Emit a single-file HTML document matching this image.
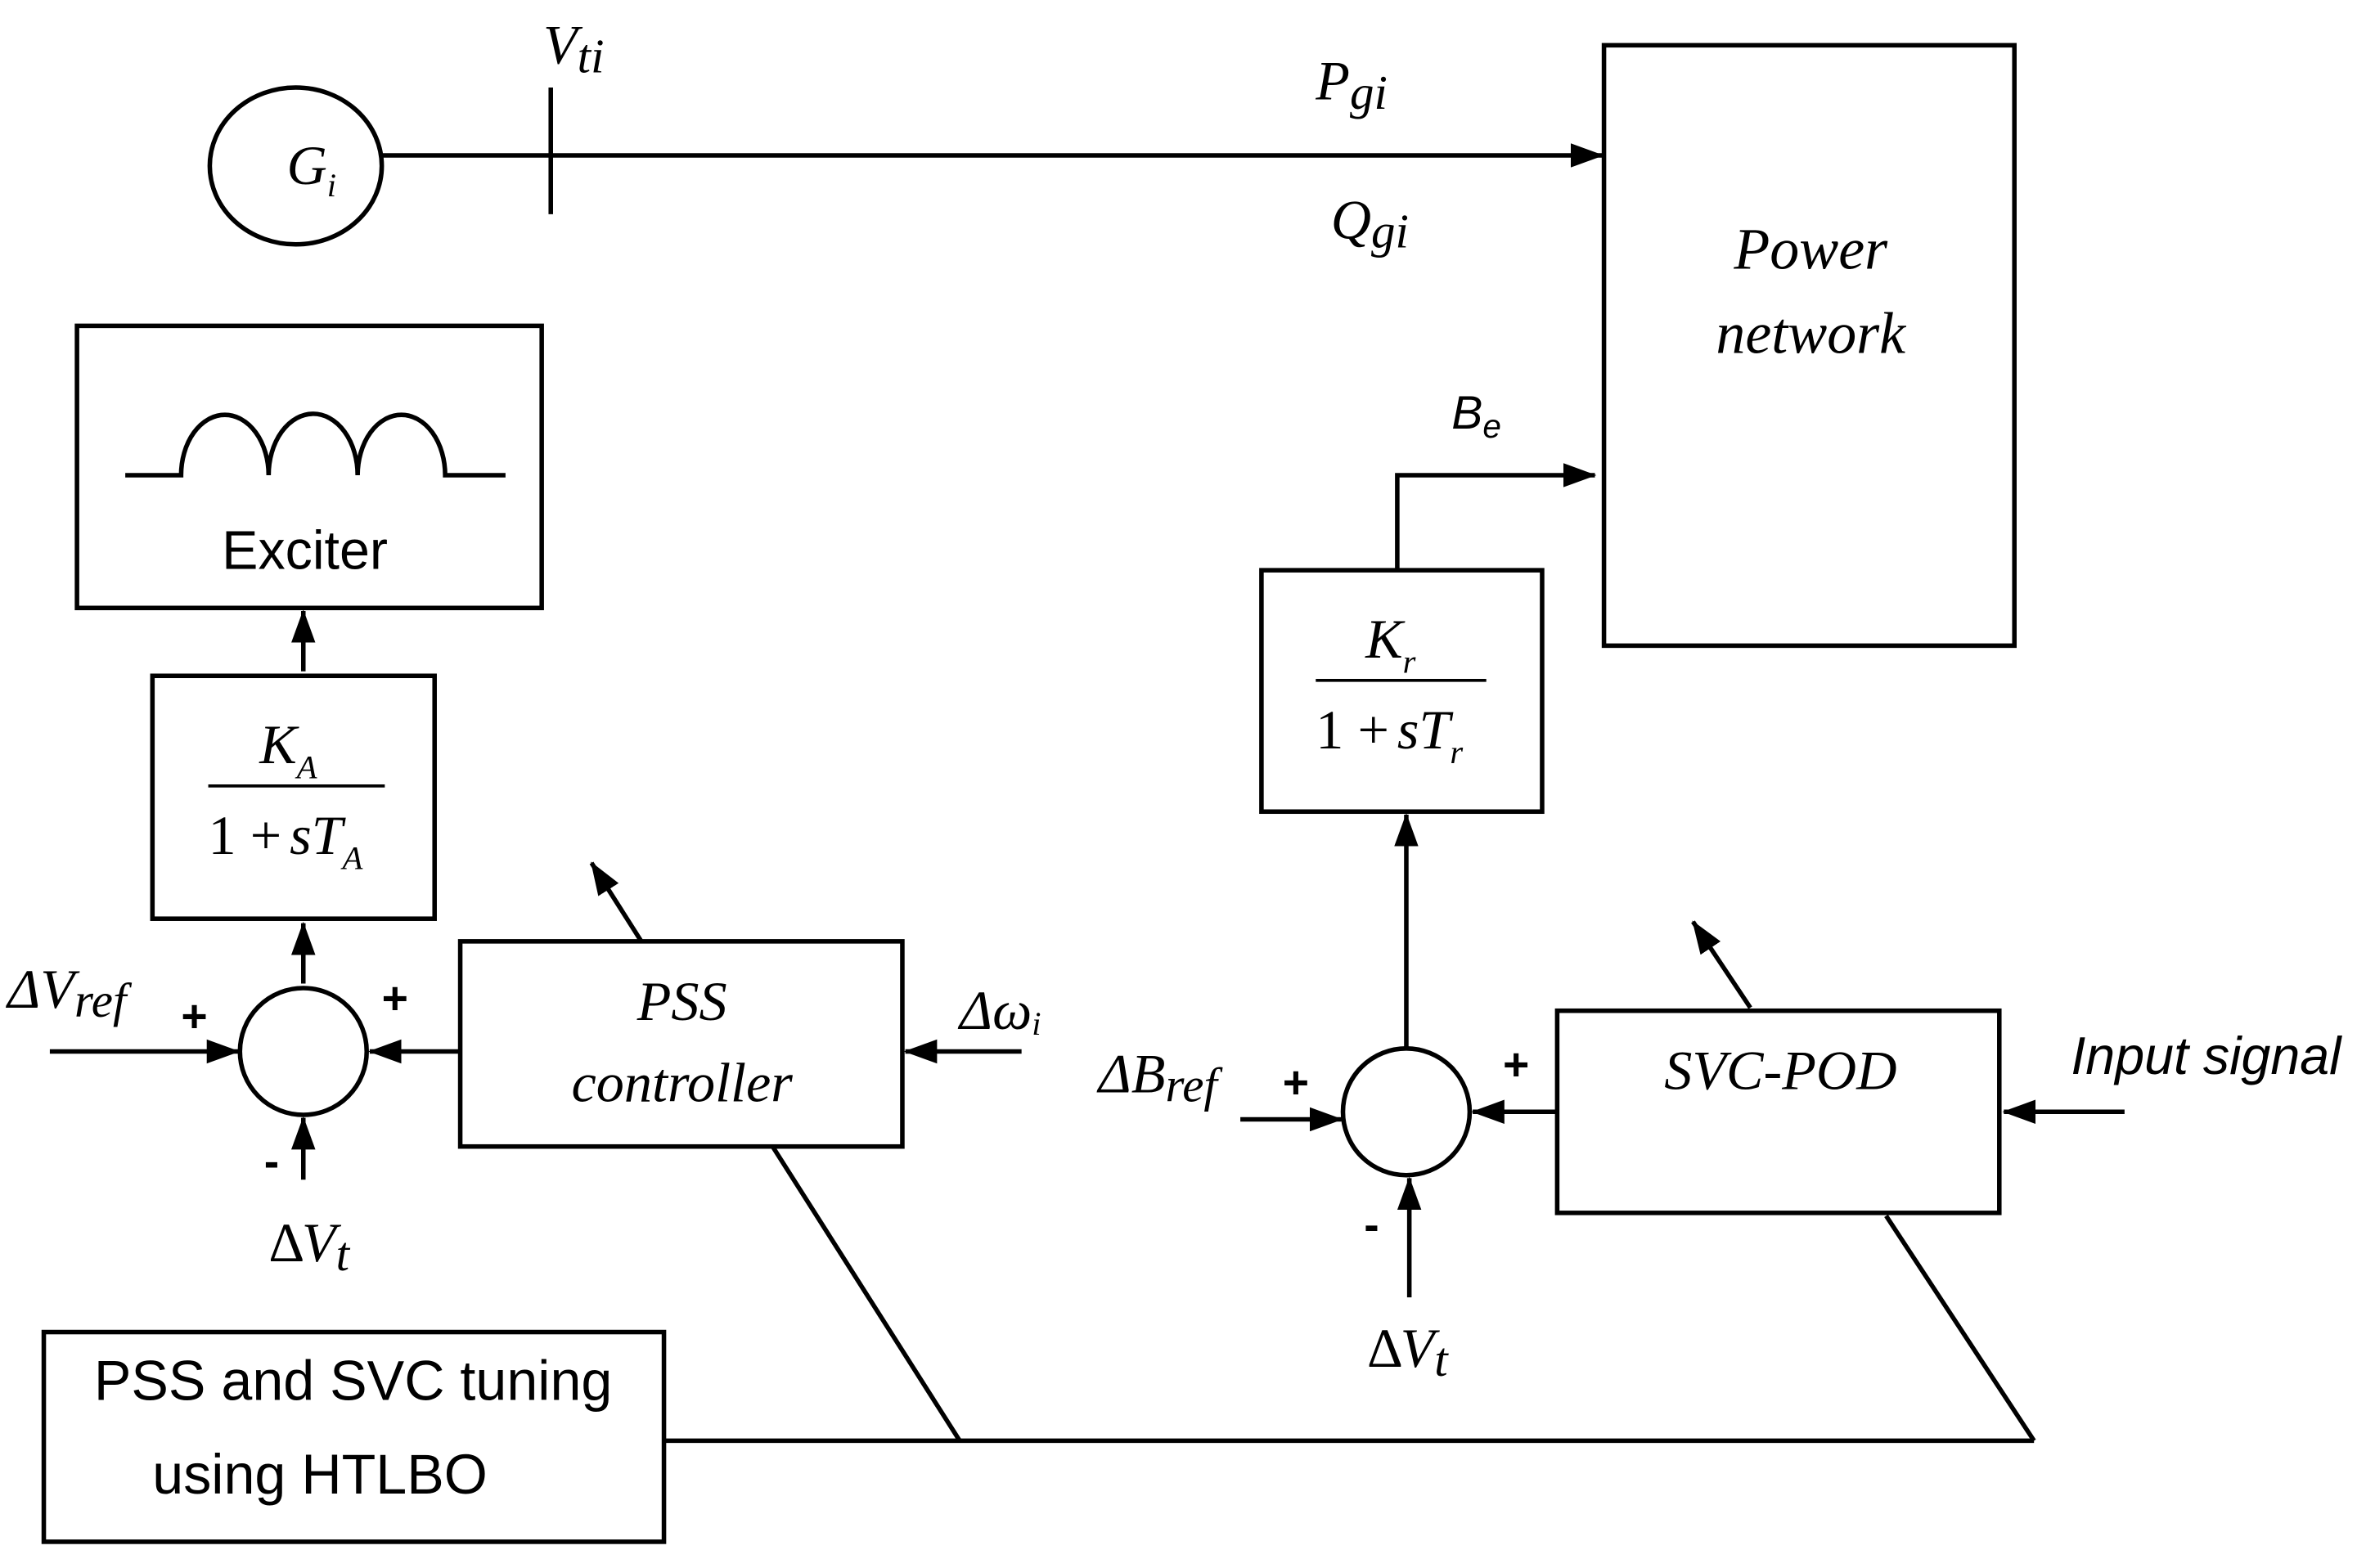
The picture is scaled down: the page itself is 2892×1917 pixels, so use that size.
<!DOCTYPE html>
<html><head><meta charset="utf-8"><style>html,body{margin:0;padding:0;background:#fff}svg{display:block}</style></head><body>
<svg width="2892" height="1917" viewBox="0 0 1568 1039.4" xmlns="http://www.w3.org/2000/svg">
<defs>
<marker id="b" markerWidth="22" markerHeight="16" refX="21" refY="8" orient="auto" markerUnits="userSpaceOnUse"><path d="M0,0L22,8L0,16z" fill="#000"/></marker></defs>
<g fill="none" stroke="#000" stroke-width="3">
<ellipse cx="196" cy="110" rx="57" ry="52"/>
<line x1="253" y1="103" x2="1062" y2="103" marker-end="url(#b)"/>
<line x1="365" y1="58" x2="365" y2="142"/>
<rect x="1063" y="30" width="272" height="398"/>
<rect x="51" y="216" width="308" height="187"/>
<path d="M83,315H120A29,40 0 0 1 178,315A29,40 0 0 1 237,315A29,40 0 0 1 295,315H335"/>
<line x1="201" y1="445" x2="201" y2="405" marker-end="url(#b)"/>
<rect x="101" y="448" width="187" height="161"/>
<line x1="138" y1="521" x2="255" y2="521" stroke-width="2"/>
<line x1="201" y1="652" x2="201" y2="612" marker-end="url(#b)"/>
<circle cx="201" cy="697" r="42"/>
<line x1="33" y1="697" x2="158" y2="697" marker-end="url(#b)"/>
<line x1="305" y1="697" x2="245" y2="697" marker-end="url(#b)"/>
<line x1="201" y1="782" x2="201" y2="741" marker-end="url(#b)"/>
<rect x="305" y="624" width="293" height="136"/>
<line x1="425" y1="624" x2="392" y2="572" marker-end="url(#b)"/>
<line x1="677" y1="697" x2="600" y2="697" marker-end="url(#b)"/>
<line x1="512" y1="760" x2="636" y2="955"/>
<rect x="29" y="883" width="411" height="139"/>
<line x1="440" y1="955" x2="1348" y2="955"/>
<line x1="1348" y1="955" x2="1250" y2="806"/>
<rect x="836" y="378" width="186" height="160"/>
<line x1="872" y1="451" x2="985" y2="451" stroke-width="2"/>
<polyline points="926,378 926,315 1057,315" marker-end="url(#b)"/>
<line x1="932" y1="695" x2="932" y2="540" marker-end="url(#b)"/>
<circle cx="932" cy="737" r="42"/>
<line x1="822" y1="742" x2="889" y2="742" marker-end="url(#b)"/>
<line x1="1032" y1="737" x2="976" y2="737" marker-end="url(#b)"/>
<line x1="934" y1="860" x2="934" y2="781" marker-end="url(#b)"/>
<rect x="1032" y="670" width="293" height="134"/>
<line x1="1160" y1="668" x2="1122" y2="611" marker-end="url(#b)"/>
<line x1="1408" y1="737" x2="1328" y2="737" marker-end="url(#b)"/>
</g>
<g font-family="Liberation Serif, serif" font-style="italic" font-size="37" fill="#000">
<text x="190" y="122">G<tspan font-size="22" dy="8">i</tspan></text>
<text x="360" y="42">V<tspan font-size="32" dy="6">ti</tspan></text>
<text x="872" y="66">P<tspan font-size="32" dy="6">gi</tspan></text>
<text x="882" y="158">Q<tspan font-size="32" dy="6">gi</tspan></text>
<text x="1200" y="178" text-anchor="middle" font-size="39">Power</text>
<text x="1200" y="234" text-anchor="middle" font-size="39">network</text>
<text x="172" y="506">K<tspan font-size="22" dy="10">A</tspan></text>
<text x="138" y="566" font-style="normal">1 + </text><text x="192" y="566">sT<tspan font-size="22" dy="10">A</tspan></text>
<text x="905" y="436">K<tspan font-size="22" dy="10">r</tspan></text>
<text x="872" y="496" font-style="normal">1 + </text><text x="926" y="496">sT<tspan font-size="22" dy="10">r</tspan></text>
<text x="452" y="676" text-anchor="middle">PSS</text>
<text x="452" y="730" text-anchor="middle">controller</text>
<text x="1180" y="722" text-anchor="middle">SVC-POD</text>
<text x="5" y="668">ΔV<tspan font-size="32" dy="6">ref</tspan></text>
<text x="728" y="724">ΔB<tspan font-size="32" dy="6">ref</tspan></text>
<text x="636" y="682">Δω<tspan font-size="22" dy="4">i</tspan></text>
<text x="178" y="836" font-style="normal">Δ</text><text x="200" y="836">V<tspan font-size="32" dy="6">t</tspan></text>
<text x="906" y="906" font-style="normal">Δ</text><text x="928" y="906">V<tspan font-size="32" dy="6">t</tspan></text>
</g>
<g font-family="Liberation Sans, sans-serif" font-size="36" fill="#000">
<text x="202" y="377" text-anchor="middle">Exciter</text>
<text x="234" y="928" text-anchor="middle" font-size="37">PSS and SVC tuning</text>
<text x="212" y="990" text-anchor="middle" font-size="37">using HTLBO</text>
<text x="1462" y="712" text-anchor="middle" font-style="italic" font-size="35">Input signal</text>
<text x="962" y="284" font-style="italic" font-size="31">B<tspan font-size="22" dy="6">e</tspan></text>
<g font-weight="bold" font-size="30"><text x="120" y="684">+</text><text x="253" y="672">+</text><text x="175" y="780">-</text>
<text x="850" y="728">+</text><text x="996" y="716">+</text><text x="904" y="822">-</text></g>
</g>
</svg>
</body></html>
